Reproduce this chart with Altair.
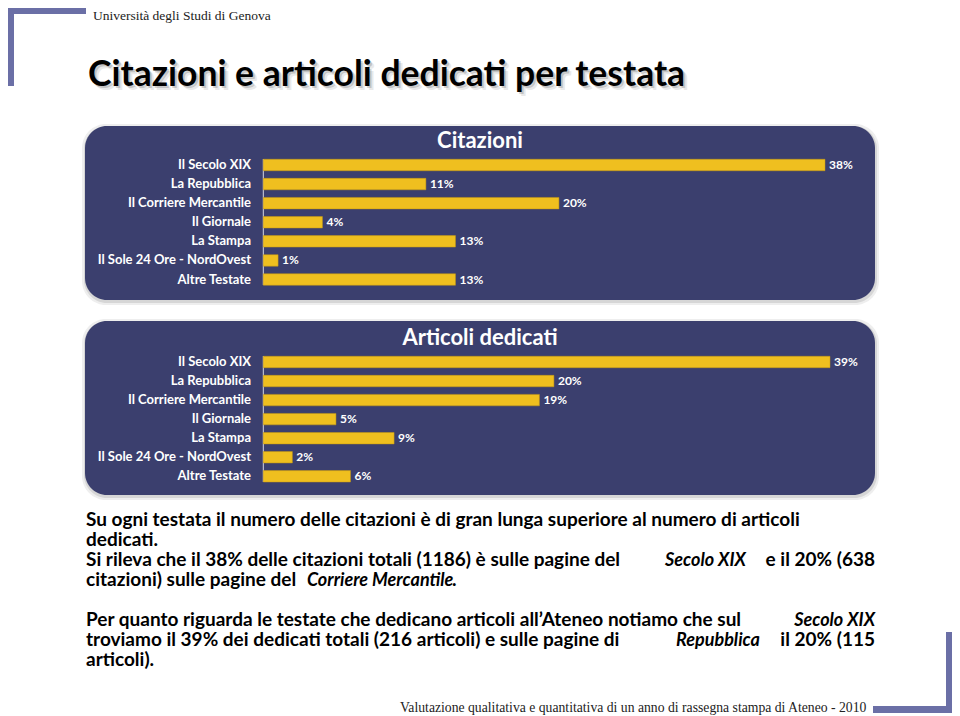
import altair as alt
import pandas as pd

# ---------------- data ----------------
testate = ["Il Secolo XIX", "La Repubblica", "Il Corriere Mercantile", "Il Giornale",
           "La Stampa", "Il Sole 24 Ore - NordOvest", "Altre Testate"]
citazioni = [38, 11, 20, 4, 13, 1, 13]
articoli = [39, 20, 19, 5, 9, 2, 6]

header_text = "Università degli Studi di Genova"
title_text = "Citazioni e articoli dedicati per testata"
panel_titles = ["Citazioni", "Articoli dedicati"]
footer_text = "Valutazione qualitativa e quantitativa di un anno di rassegna stampa di Ateneo - 2010"

body_lines = [
    [("Su ogni testata il numero delle citazioni è di gran lunga superiore al numero di articoli", False)],
    [("dedicati.", False)],
    [("Si rileva che il 38% delle citazioni totali (1186) è sulle pagine del", False),
     ("Secolo XIX", True), ("e il 20% (638", False)],
    [("citazioni) sulle pagine del", False), ("Corriere Mercantile", True), (".", False)],
    [("Per quanto riguarda le testate che dedicano articoli all\u2019Ateneo notiamo che sul", False),
     ("Secolo XIX", True)],
    [("troviamo il 39% dei dedicati totali (216 articoli) e sulle pagine di", False),
     ("Repubblica", True), ("il 20% (115", False)],
    [("articoli).", False)],
]

# ---------------- layout (page coordinates) ----------------
M = 8  # page margin
PANEL = "#3b3f6e"
BAR = "#efbf1f"
ACCENT = "#6b6fa6"
FONT = "Lato"
BODY_SIZE = 19
ITALIC_SIZE = 18

# y = text baseline
body_layout = [
    (526, [(86, "left")]),
    (546, [(86, "left")]),
    (566, [(86, "left"), (665, "left"), (875, "right")]),
    (586, [(86, "left"), (307, "left"), (452, "left")]),
    (626, [(86, "left"), (875, "right")]),
    (646, [(86, "left"), (676, "left"), (875, "right")]),
    (666, [(86, "left")]),
]

one = alt.Data(values=[{"a": 1}])


def txt(s, x, y, size, weight="normal", style="normal", color="#000", align="left",
        font=FONT, opacity=1.0, baseline="middle"):
    return alt.Chart(one).mark_text(
        text=s, fontSize=size, fontWeight=weight, fontStyle=style, color=color,
        align=align, baseline=baseline, font=font, opacity=opacity
    ).encode(x=alt.value(x - M), y=alt.value(y - M))


def rect(x1, y1, x2, y2, color, radius=0, opacity=1.0):
    return alt.Chart(one).mark_rect(color=color, cornerRadius=radius, opacity=opacity).encode(
        x=alt.value(x1 - M), x2=alt.value(x2 - M), y=alt.value(y1 - M), y2=alt.value(y2 - M))


layers = []

# decorative brackets
layers += [rect(8, 8, 86, 14, ACCENT), rect(8, 8, 14, 86, ACCENT),
           rect(946, 632, 952, 713, ACCENT), rect(873, 706, 952, 713, ACCENT)]

# header / footer
layers.append(txt(header_text, 93, 16, 13.5, color="#222", font="Liberation Serif"))
layers.append(txt(footer_text, 400, 708, 13.7, color="#222", font="Liberation Serif"))

# title with soft shadow
for d, op in [(4, 0.12), (2, 0.25)]:
    layers.append(txt(title_text, 88 + d, 75 + d, 35.5, weight="bold", color="#555", opacity=op))
layers.append(txt(title_text, 88, 75, 35.5, weight="bold", color="#000"))


def panel(values, top, bottom, title_y, row0, row_last, xmax_val, xmax_px, axis_y1, axis_y2, title):
    out = []
    # shadow + background
    out.append(rect(82, top - 2, 879, bottom + 5, "#777", radius=24, opacity=0.12))
    out.append(rect(84, top, 877, bottom + 3, "#777", radius=23, opacity=0.2))
    out.append(rect(85, top, 875, bottom, PANEL, radius=22))
    out.append(txt(title, 480, title_y, 22, weight="bold", color="white", align="center"))
    out.append(alt.Chart(one).mark_rule(color="#d8d8e0", strokeWidth=1).encode(
        x=alt.value(263.3 - M), y=alt.value(axis_y1 - M), y2=alt.value(axis_y2 - M)))

    df = pd.DataFrame({"testata": testate, "v": values,
                       "lab": [f"{v}%" for v in values]})
    step = (row_last - row0) / 6
    yscale = alt.Scale(domain=testate, range=[row0 - step / 2 - M, row_last + step / 2 - M],
                       paddingInner=0.4, paddingOuter=0.2)
    xscale = alt.Scale(domain=[0, xmax_val], range=[263.3 - M, xmax_px - M], nice=False, zero=True)
    base = alt.Chart(df)
    y = alt.Y("testata:N", scale=yscale, axis=None, sort=testate)
    x = alt.X("v:Q", scale=xscale, axis=None)
    out.append(base.mark_bar(color=BAR, stroke="#c99a10", strokeWidth=0.5).encode(x=x, y=y))
    out.append(base.mark_text(align="left", dx=4, color="white", fontSize=12,
                              fontWeight="bold", font=FONT, baseline="middle").encode(
        x=x, y=y, text="lab:N"))
    out.append(base.mark_text(align="right", color="white", fontSize=13,
                              fontWeight="bold", font=FONT, baseline="middle").encode(
        x=alt.value(251 - M), y=y, text="testata:N"))
    return out


layers += panel(citazioni, 126, 300, 141, 165, 279.5, 38, 825, 159, 285, panel_titles[0])
layers += panel(articoli, 321, 495, 338, 362, 476.3, 39, 830, 356, 482, panel_titles[1])

# body text
for (ly, pos), segs in zip(body_layout, body_lines):
    for (px, al), (s, it) in zip(pos, segs):
        layers.append(txt(s, px, ly, ITALIC_SIZE if it else BODY_SIZE, weight="bold",
                          style="italic" if it else "normal", color="#000", align=al,
                          baseline="alphabetic"))

chart = alt.layer(*layers).resolve_scale(x="independent", y="independent").properties(
    width=944, height=708, padding=0, autosize=alt.AutoSizeParams(type="none"),
    background="white"
).configure_view(stroke=None)

chart.save("out.html", embed_options={"renderer": "svg", "actions": False})
